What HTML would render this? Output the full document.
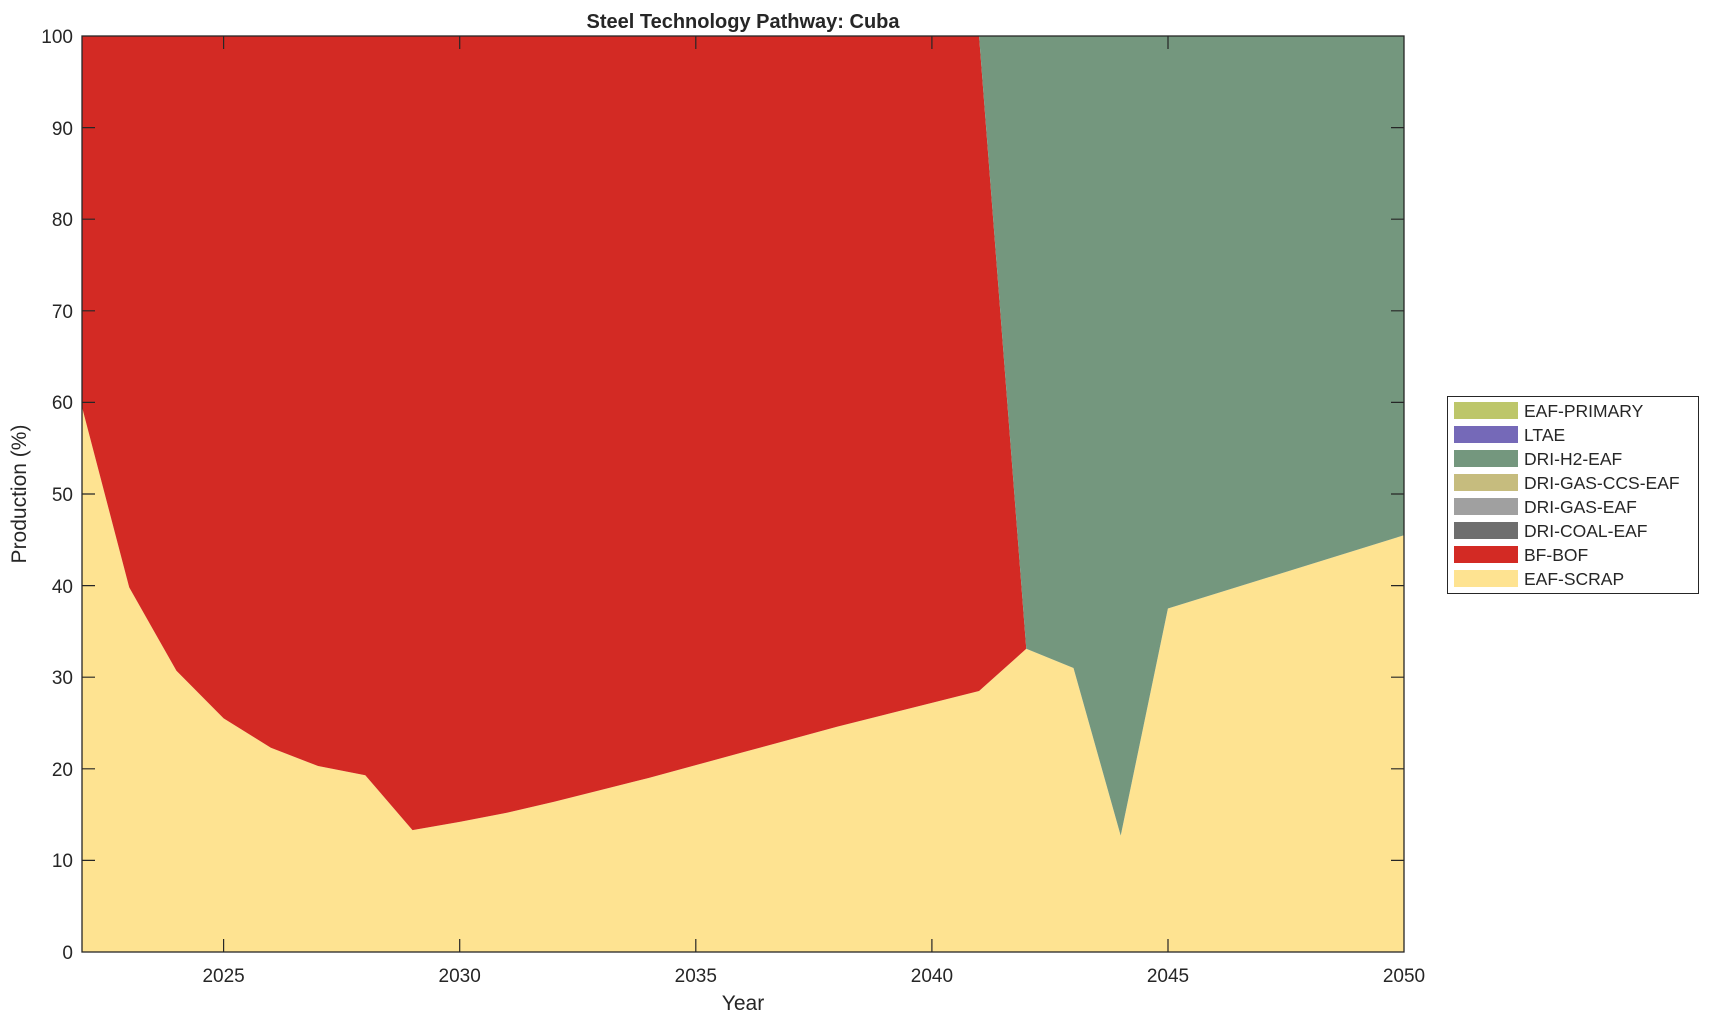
<!DOCTYPE html>
<html><head><style>body{margin:0;background:#fff}svg{display:block}text{font-family:"Liberation Sans",Arial,sans-serif;fill:#262626}</style></head>
<body>
<svg width="1709" height="1021" viewBox="0 0 1709 1021" xmlns="http://www.w3.org/2000/svg">
<g transform="translate(82,952) scale(47.214,-9.16)">
<polygon fill="#fee391" points="0,0 0,59.5 1,39.8 2,30.7 3,25.5 4,22.3 5,20.3 6,19.3 7,13.3 8,14.2 9,15.2 10,16.4 11,17.7 12,19.0 13,20.4 14,21.8 15,23.2 16,24.6 17,25.9 18,27.2 19,28.5 20,33.1 21,31 22,12.7 23,37.5 28,45.5 28,0"/>
<polygon fill="#d32a24" points="0,100 19,100 20,33.1 19,28.5 18,27.2 17,25.9 16,24.6 15,23.2 14,21.8 13,20.4 12,19.0 11,17.7 10,16.4 9,15.2 8,14.2 7,13.3 6,19.3 5,20.3 4,22.3 3,25.5 2,30.7 1,39.8 0,59.5"/>
<polygon fill="#74977e" points="19,100 28,100 28,45.5 23,37.5 22,12.7 21,31 20,33.1"/>
</g>
<rect x="82" y="36" width="1322" height="916" fill="none" stroke="#262626" stroke-width="1.3"/>
<g stroke="#262626" stroke-width="1.2">
<path d="M223.6,952v-13M459.7,952v-13M695.8,952v-13M931.9,952v-13M1168,952v-13M223.6,36v13M459.7,36v13M695.8,36v13M931.9,36v13M1168,36v13"/>
<path d="M82,860.4h13M82,768.8h13M82,677.2h13M82,585.6h13M82,494h13M82,402.4h13M82,310.8h13M82,219.2h13M82,127.6h13M1404,860.4h-13M1404,768.8h-13M1404,677.2h-13M1404,585.6h-13M1404,494h-13M1404,402.4h-13M1404,310.8h-13M1404,219.2h-13M1404,127.6h-13"/>
</g>
<g font-size="19" text-anchor="end">
<text x="73" y="959">0</text><text x="73" y="867">10</text><text x="73" y="776">20</text><text x="73" y="684">30</text><text x="73" y="593">40</text><text x="73" y="501">50</text><text x="73" y="409">60</text><text x="73" y="318">70</text><text x="73" y="226">80</text><text x="73" y="135">90</text><text x="73" y="43">100</text>
</g>
<g font-size="19" text-anchor="middle">
<text x="223.6" y="982">2025</text><text x="459.7" y="982">2030</text><text x="695.8" y="982">2035</text><text x="931.9" y="982">2040</text><text x="1168" y="982">2045</text><text x="1404" y="982">2050</text>
<text x="743" y="1010" font-size="21">Year</text>
<text x="743" y="28" font-size="20" font-weight="bold" fill="#000">Steel Technology Pathway: Cuba</text>
<text transform="translate(26,494) rotate(-90)" font-size="21">Production (%)</text>
</g>
<rect x="1447.5" y="396.5" width="251" height="197" fill="#fff" stroke="#262626" stroke-width="1"/>
<g font-size="17.5">
<rect x="1454" y="402" width="64" height="17" fill="#bdc66a"/><text x="1524" y="417" fill="#000">EAF-PRIMARY</text>
<rect x="1454" y="426" width="64" height="17" fill="#7569b8"/><text x="1524" y="441" fill="#000">LTAE</text>
<rect x="1454" y="450" width="64" height="17" fill="#74977e"/><text x="1524" y="465" fill="#000">DRI-H2-EAF</text>
<rect x="1454" y="474" width="64" height="17" fill="#c6bc7e"/><text x="1524" y="489" fill="#000">DRI-GAS-CCS-EAF</text>
<rect x="1454" y="498" width="64" height="17" fill="#a0a0a0"/><text x="1524" y="513" fill="#000">DRI-GAS-EAF</text>
<rect x="1454" y="522" width="64" height="17" fill="#6e6e6e"/><text x="1524" y="537" fill="#000">DRI-COAL-EAF</text>
<rect x="1454" y="546" width="64" height="17" fill="#d32a24"/><text x="1524" y="561" fill="#000">BF-BOF</text>
<rect x="1454" y="570" width="64" height="17" fill="#fee391"/><text x="1524" y="585" fill="#000">EAF-SCRAP</text>
</g>
</svg>
</body></html>
